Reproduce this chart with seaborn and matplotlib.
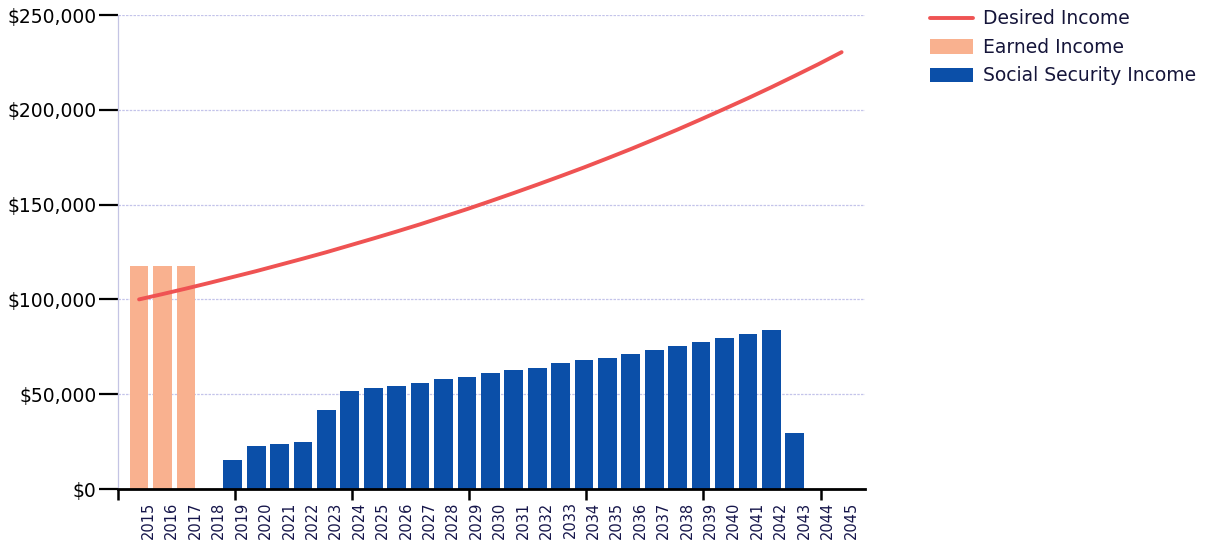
import pandas as pd
import seaborn as sns
import matplotlib.pyplot as plt
from matplotlib.lines import Line2D
from matplotlib.patches import Patch
from matplotlib.ticker import FuncFormatter

# data
years = [2015, 2016, 2017, 2018, 2019, 2020, 2021, 2022, 2023, 2024, 2025,
         2026, 2027, 2028, 2029, 2030, 2031, 2032, 2033, 2034, 2035, 2036,
         2037, 2038, 2039, 2040, 2041, 2042, 2043, 2044, 2045]
desired_income = [100000, 102800, 105700, 108700, 111800, 114900, 118200,
                  121500, 124900, 128500, 132100, 135800, 139600, 143600,
                  147600, 151800, 156100, 160500, 165000, 169600, 174400,
                  179300, 184400, 189600, 195000, 200500, 206100, 211900,
                  217900, 224000, 230400]
earned_years = [2015, 2016, 2017]
earned_income = [117400, 117400, 117400]
ss_years = [2019, 2020, 2021, 2022, 2023, 2024, 2025, 2026, 2027, 2028, 2029,
            2030, 2031, 2032, 2033, 2034, 2035, 2036, 2037, 2038, 2039, 2040,
            2041, 2042, 2043]
ss_income = [15400, 22600, 23500, 24600, 41900, 51500, 53400, 54500, 55700,
             57800, 58900, 61000, 62900, 63900, 66200, 68100, 69200, 71400,
             73300, 75400, 77500, 79600, 81500, 83600, 29400]

red = '#ef5353'
peach = '#f9b18f'
blue = '#0b4fa8'

sns.set_style('white')
plt.rcParams['font.family'] = ['DejaVu Sans']

fig = plt.figure(figsize=(12.18, 5.44), dpi=100)
ax = fig.add_axes([118 / 1218, 1 - 489 / 544, (865 - 118) / 1218, (489 - 15) / 544])

ax.yaxis.grid(True, color='#c4c4ea', linestyle=(0, (2, 1)), linewidth=0.9)
ax.set_axisbelow(True)

earned_df = pd.DataFrame({'year': earned_years, 'income': earned_income})
ss_df = pd.DataFrame({'year': ss_years, 'income': ss_income})
desired_df = pd.DataFrame({'year': years, 'income': desired_income})

sns.barplot(data=earned_df, x='year', y='income', color=peach, saturation=1,
            native_scale=True, width=0.8, linewidth=0, ax=ax)
sns.barplot(data=ss_df, x='year', y='income', color=blue, saturation=1,
            native_scale=True, width=0.8, linewidth=0, ax=ax)
sns.lineplot(data=desired_df, x='year', y='income', color=red, linewidth=2.8,
             ax=ax)

ax.set_xlim(2014.1, 2046.0)
ax.set_ylim(0, 250000)
ax.set_xlabel('')
ax.set_ylabel('')

# y axis
ax.set_yticks([0, 50000, 100000, 150000, 200000, 250000])
ax.yaxis.set_major_formatter(FuncFormatter(lambda v, p: f'${v:,.0f}'))
ax.tick_params(axis='y', length=14, width=1.6, color='black', direction='out',
               labelsize=13.5, labelcolor='black', pad=1.5, left=True)

# x axis: sparse major tick marks, year labels as minor ticks
ax.set_xticks([2014.1, 2019.1, 2024.1, 2029.1, 2034.1, 2039.1, 2044.1])
ax.set_xticklabels([])
ax.set_xticks([y + 0.4 for y in years], minor=True)
ax.set_xticklabels([str(y) for y in years], minor=True, rotation=90,
                   fontsize=10.5, color='#15154a')
ax.tick_params(axis='x', which='major', length=8, width=1.8, color='black',
               direction='out', bottom=True)
ax.tick_params(axis='x', which='minor', length=0, pad=9, bottom=True)

for side in ['top', 'right']:
    ax.spines[side].set_visible(False)
ax.spines['bottom'].set_color('black')
ax.spines['bottom'].set_linewidth(2)
ax.spines['left'].set_color('#c4c4e4')
ax.spines['left'].set_linewidth(0.9)
ax.spines['left'].set_linestyle((0, (2, 1)))

handles = [Line2D([0], [0], color=red, linewidth=2.8),
           Patch(facecolor=peach, edgecolor='none'),
           Patch(facecolor=blue, edgecolor='none')]
labels = ['Desired Income', 'Earned Income', 'Social Security Income']
leg = fig.legend(handles, labels, loc='upper left',
                 bbox_to_anchor=(922 / 1218, 1 - 2 / 544), frameon=False,
                 fontsize=13.5, handlelength=2.3, handleheight=0.8,
                 handletextpad=0.55, labelspacing=0.5, borderaxespad=0)
for t in leg.get_texts():
    t.set_color('#15153a')

fig.savefig('out.png', dpi=100)
